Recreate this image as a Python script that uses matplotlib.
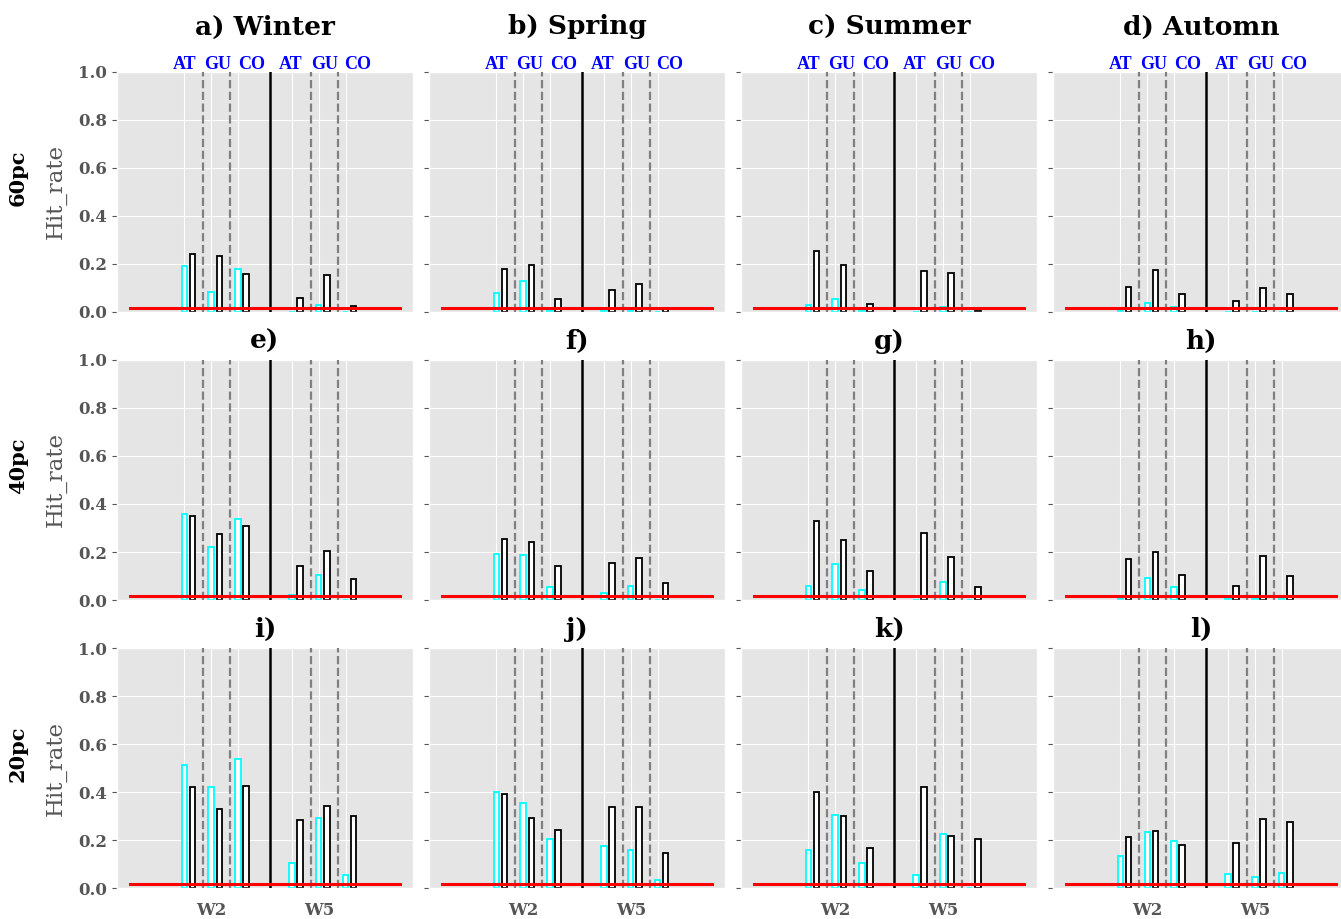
# Частота попаданий по сезонам и порогам для окон W2 и W5
import numpy as np
import matplotlib.pyplot as plt

plt.style.use('ggplot')
plt.rcParams['font.family'] = ['DejaVu Serif']

levels = ['60pc', '40pc', '20pc']
panel_titles = [['a) Winter', 'b) Spring', 'c) Summer', 'd) Automn'],
                ['e)', 'f)', 'g)', 'h)'],
                ['i)', 'j)', 'k)', 'l)']]
stations = ['AT', 'GU', 'CO']
windows = ['W2', 'W5']
x_pos = np.array([1, 2, 3, 5, 6, 7])
tick_labels = ['', 'W2', '', '', 'W5', '']

# порядок: W2 AT, GU, CO, W5 AT, GU, CO
cyan_60pc = [[0.190, 0.084, 0.180, 0.000, 0.028, 0.000],
             [0.080, 0.128, 0.005, 0.005, 0.005, 0.000],
             [0.027, 0.056, 0.005, 0.000, 0.020, 0.000],
             [0.004, 0.038, 0.020, 0.000, 0.000, 0.000]]
black_60pc = [[0.243, 0.234, 0.160, 0.060, 0.155, 0.023],
              [0.177, 0.195, 0.056, 0.090, 0.117, 0.012],
              [0.255, 0.194, 0.035, 0.172, 0.162, 0.005],
              [0.106, 0.173, 0.073, 0.045, 0.100, 0.074]]

cyan_40pc = [[0.357, 0.220, 0.336, 0.020, 0.103, 0.000],
             [0.193, 0.188, 0.054, 0.028, 0.060, 0.000],
             [0.058, 0.150, 0.040, 0.000, 0.075, 0.000],
             [0.010, 0.093, 0.054, 0.005, 0.008, 0.005]]
black_40pc = [[0.349, 0.275, 0.310, 0.143, 0.203, 0.086],
              [0.253, 0.242, 0.142, 0.154, 0.175, 0.072],
              [0.330, 0.250, 0.120, 0.280, 0.180, 0.055],
              [0.170, 0.200, 0.104, 0.060, 0.182, 0.099]]

cyan_20pc = [[0.514, 0.419, 0.536, 0.104, 0.292, 0.054],
             [0.400, 0.354, 0.203, 0.175, 0.160, 0.035],
             [0.158, 0.304, 0.103, 0.054, 0.224, 0.000],
             [0.134, 0.233, 0.198, 0.058, 0.047, 0.062]]
black_20pc = [[0.419, 0.330, 0.425, 0.282, 0.342, 0.302],
              [0.393, 0.290, 0.240, 0.337, 0.337, 0.145],
              [0.400, 0.302, 0.165, 0.420, 0.215, 0.204],
              [0.213, 0.237, 0.178, 0.187, 0.287, 0.275]]

random_hit = 0.015

cyan_all = [cyan_60pc, cyan_40pc, cyan_20pc]
black_all = [black_60pc, black_40pc, black_20pc]

fig, axes = plt.subplots(3, 4, figsize=(13.41, 9.19), dpi=100, sharey=True)
fig.subplots_adjust(left=0.0872, right=1.006, top=0.9217, bottom=0.0337,
                    wspace=0.054, hspace=0.2)

for r in range(3):
    for c in range(4):
        ax = axes[r, c]

        ax.bar(x_pos, cyan_all[r][c], width=0.2, facecolor='white',
               edgecolor='cyan', linewidth=1.3, zorder=2)
        ax.bar(x_pos + 0.3, black_all[r][c], width=0.2, facecolor='white',
               edgecolor='black', linewidth=1.3, zorder=2)

        # разделители станций и окон
        for xv in [1.7, 2.7, 5.7, 6.7]:
            ax.axvline(xv, color='grey', linestyle='--', linewidth=1.6, zorder=3)
        ax.axvline(4.2, color='black', linewidth=1.8, zorder=3)

        ax.plot([-1, 9], [random_hit, random_hit], color='red', linewidth=2.2, zorder=5)

        ax.set_xlim(-1.5, 9.5)
        ax.set_ylim(0, 1)
        ax.set_xticks(x_pos)
        ax.set_yticks(np.arange(0, 1.01, 0.2))
        ax.tick_params(axis='x', length=0, pad=10)
        if r == 2:
            ax.set_xticklabels(tick_labels, fontsize=12, fontweight='bold', color='#555555')
        else:
            ax.set_xticklabels([])

        if r == 0:
            ax.set_title(panel_titles[r][c], fontsize=19, fontweight='bold', pad=27)
            for w in range(2):
                for s in range(3):
                    ax.text(1 + 3.95 * w + 1.25 * s, 1.03, stations[s], color='blue',
                            fontsize=13, fontweight='bold', family='Liberation Serif',
                            ha='center', va='center')
        else:
            ax.set_title(panel_titles[r][c], fontsize=19, fontweight='bold', pad=8)

        if c == 0:
            for lab in ax.get_yticklabels():
                lab.set_fontsize(12)
                lab.set_fontweight('bold')
                lab.set_color('#555555')
            ax.set_ylabel('Hit_rate', fontsize=16.5, color='#555555', labelpad=8)
            ax.text(-0.334, 0.56, levels[r], transform=ax.transAxes, rotation=90,
                    fontsize=15, fontweight='bold', ha='center', va='center')

fig.savefig('out.png', dpi=100)
